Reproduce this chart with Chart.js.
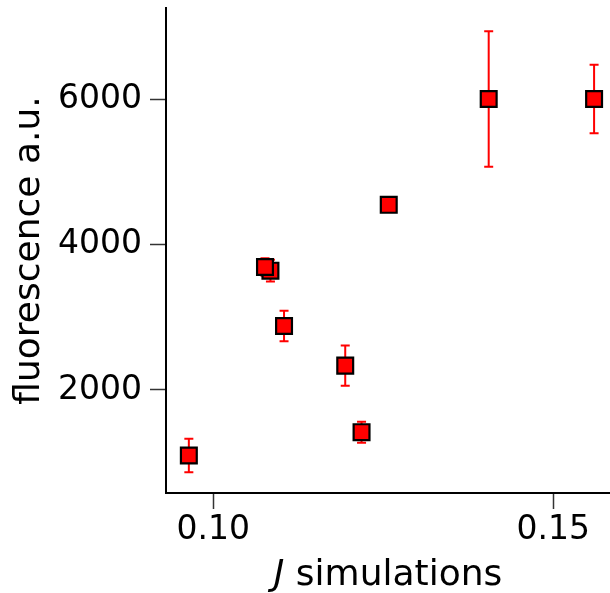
<!DOCTYPE html>
<html>
<head>
<meta charset="utf-8">
<script src="https://cdn.jsdelivr.net/npm/chart.js@4/dist/chart.umd.min.js"></script>
<style>
  html, body { margin: 0; padding: 0; background: #fff; }
  #wrap { width: 610px; height: 593px; }
</style>
</head>
<body>
<div id="wrap"><canvas id="c" width="610" height="593"></canvas></div>
<script>
// Data
const jValues = [0.0964, 0.1084, 0.1076, 0.1104, 0.1194, 0.1218, 0.1258, 0.1405, 0.1560];
const fluorescence = [1100, 3640, 3690, 2880, 2335, 1420, 4545, 6000, 6000];
const fluorescenceErr = [230, 150, 120, 210, 275, 145, 50, 930, 470];
const xTicks = [0.10, 0.15];
const yTicks = [2000, 4000, 6000];
const xTitleItalic = 'J';
const xTitleRest = ' simulations';
const yTitle = 'fluorescence a.u.';

const points = jValues.map((x, i) => ({ x: x, y: fluorescence[i], err: fluorescenceErr[i] }));

const FONT = 'DejaVu Sans';

const errorBars = {
  id: 'errorBars',
  beforeDatasetsDraw(chart) {
    const ctx = chart.ctx;
    const xs = chart.scales.x, ys = chart.scales.y;
    ctx.save();
    ctx.strokeStyle = '#ff0000';
    ctx.lineWidth = 2;
    const cap = 4.5;
    points.forEach(p => {
      const px = xs.getPixelForValue(p.x);
      const top = ys.getPixelForValue(p.y + p.err);
      const bot = ys.getPixelForValue(p.y - p.err);
      ctx.beginPath();
      ctx.moveTo(px, top); ctx.lineTo(px, bot);
      ctx.moveTo(px - cap, top); ctx.lineTo(px + cap, top);
      ctx.moveTo(px - cap, bot); ctx.lineTo(px + cap, bot);
      ctx.stroke();
    });
    ctx.restore();
  }
};

const xTitlePlugin = {
  id: 'xTitle',
  afterDraw(chart) {
    const ctx = chart.ctx;
    const ca = chart.chartArea;
    const size = 36;
    ctx.save();
    ctx.fillStyle = '#000';
    ctx.textBaseline = 'alphabetic';
    ctx.font = 'italic ' + size + 'px "' + FONT + '"';
    const w1 = ctx.measureText(xTitleItalic).width;
    ctx.font = size + 'px "' + FONT + '"';
    const w2 = ctx.measureText(xTitleRest).width;
    const cx = (ca.left + ca.right) / 2;
    let x = cx - (w1 + w2) / 2;
    const y = 585;
    ctx.textAlign = 'left';
    ctx.font = 'italic ' + size + 'px "' + FONT + '"';
    ctx.fillText(xTitleItalic, x, y);
    ctx.font = size + 'px "' + FONT + '"';
    ctx.fillText(xTitleRest, x + w1, y);
    ctx.restore();
  }
};

new Chart(document.getElementById('c'), {
  type: 'scatter',
  data: {
    datasets: [{
      data: points,
      pointStyle: 'rect',
      pointRadius: 11.2,
      pointHoverRadius: 11.2,
      backgroundColor: '#ff0000',
      borderColor: '#000000',
      borderWidth: 2.2,
      clip: false
    }]
  },
  options: {
    responsive: false,
    animation: false,
    events: [],
    layout: { autoPadding: false, padding: { top: 8, right: 0, left: 0, bottom: 0 } },
    plugins: { legend: { display: false }, tooltip: { enabled: false } },
    scales: {
      x: {
        type: 'linear',
        min: 0.09304,
        max: 0.15834,
        afterBuildTicks(s) { s.ticks = xTicks.map(v => ({ value: v })); },
        afterFit(s) { s.height = 100; s.paddingLeft = 0; s.paddingRight = 0; },
        ticks: {
          color: '#000',
          font: { family: FONT, size: 33 },
          padding: 2,
          maxRotation: 0,
          callback: v => Number(v).toFixed(2)
        },
        grid: { drawOnChartArea: false, drawTicks: true, tickLength: 16, tickColor: '#333', tickWidth: 1.5 },
        border: { display: true, color: '#000', width: 2 },
        title: { display: false }
      },
      y: {
        type: 'linear',
        min: 584,
        max: 7251,
        afterBuildTicks(s) { s.ticks = yTicks.map(v => ({ value: v })); },
        afterFit(s) { s.width = 166; s.paddingTop = 0; s.paddingBottom = 0; },
        ticks: {
          color: '#000',
          font: { family: FONT, size: 33 },
          padding: 8,
          callback: v => String(v)
        },
        grid: { drawOnChartArea: false, drawTicks: true, tickLength: 16, tickColor: '#333', tickWidth: 1.5 },
        border: { display: true, color: '#000', width: 2 },
        title: {
          display: true,
          text: yTitle,
          color: '#000',
          font: { family: FONT, size: 36 },
          padding: { top: 8, bottom: 0 }
        }
      }
    }
  },
  plugins: [errorBars, xTitlePlugin]
});
</script>
</body>
</html>
